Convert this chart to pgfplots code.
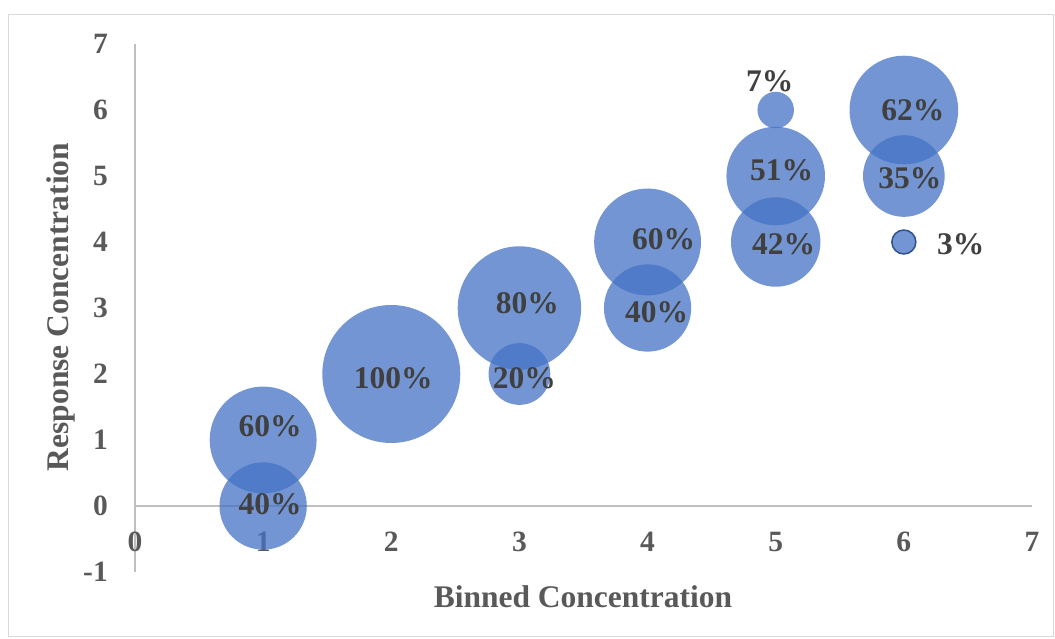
\documentclass[border=0pt]{standalone}
\usepackage{pgfplots}
\pgfplotsset{compat=1.18}
\usepackage{pgfplotstable}
\usepackage{fontspec}
\setmainfont{Liberation Serif}
\definecolor{bub}{HTML}{4472C4}
\definecolor{bubedge}{HTML}{2F528F}
\definecolor{tickgray}{HTML}{595959}
\definecolor{labgray}{HTML}{404040}
\definecolor{axgray}{HTML}{BFBFBF}
\definecolor{framegray}{HTML}{D9D9D9}
\newcommand\tickfont{\fontsize{29.5}{34}\selectfont\bfseries}
\newcommand\labfont{\fontsize{31.5}{36}\selectfont\bfseries}
\newcommand\titlefont{\fontsize{31.5}{36}\selectfont\bfseries}

\pgfplotstableread{
x y s
1 1 0.60
1 0 0.40
2 2 1.00
3 3 0.80
3 2 0.20
4 4 0.60
4 3 0.40
5 5 0.51
5 4 0.42
5 6 0.07
6 6 0.62
6 5 0.35
}\bubbles

\pgfplotstableread{
x y s
6 4 0.03
}\smallbubble

\pgfplotstableread{
x y lab dx dy
1 1 60 7 14
1 0 40 7 2
2 2 100 2 -4
3 3 80 8 5
3 2 20 5 -4.5
4 4 60 16 3
4 3 40 9 -4
5 5 51 6 5.5
5 4 42 8 -2.5
5 6 7 -6 29
6 6 62 9 0
6 5 35 6 -2
6 4 3 57 -2
}\labels

\begin{document}
\begin{tikzpicture}[x=1pt,y=1pt]
\useasboundingbox (0,0) rectangle (1055,638);
\draw[framegray, line width=1pt] (8.5,1.5) rectangle (1053.5,623.5);
\begin{axis}[
  at={(135pt,66pt)}, anchor=south west,
  scale only axis, width=897pt, height=528pt,
  xmin=0, xmax=7, ymin=-1, ymax=7,
  axis lines=middle,
  axis line style={-, draw=axgray, line width=1.5pt},
  xtick={0,1,2,3,4,5,6,7},
  ytick={-1,0,1,2,3,4,5,6,7},
  xticklabels={0,1,2,3,4,5,6,7},
  yticklabels={-1,0,1,2,3,4,5,6,7},
  hide obscured x ticks=false, hide obscured y ticks=false,
  major tick length=0pt, tick style={draw=none},
  xticklabel style={anchor=north, inner sep=0pt, yshift=-26pt, font=\tickfont, text=tickgray},
  yticklabel style={anchor=east, inner sep=0pt, xshift=-27pt, font=\tickfont, text=tickgray},
  clip=false,
]
\addplot[scatter, only marks, mark=*,
  mark options={draw opacity=0},
  scatter/use mapped color={draw=bub, fill=bub, fill opacity=0.75, draw opacity=0},
  visualization depends on={69*sqrt(\thisrow{s}) \as \msize},
  scatter/@pre marker code/.append style={/tikz/mark size=\msize pt},
] table[x=x, y=y, meta=s] {\bubbles};

\addplot[only marks, mark=*, mark size=12pt,
  mark options={draw=bubedge, line width=1.5pt, fill=bub, fill opacity=0.75}]
  table[x=x, y=y] {\smallbubble};

\addplot[only marks, mark=*, mark size=0pt, mark options={draw=none, fill=none},
  point meta=explicit symbolic,
  nodes near coords={\pgfplotspointmeta\%},
  visualization depends on={\thisrow{dx} \as \dx},
  visualization depends on={\thisrow{dy} \as \dy},
  every node near coord/.append style={anchor=center, xshift=\dx, yshift=\dy, font=\labfont, text=labgray, inner sep=0pt},
] table[x=x, y=y, meta=lab] {\labels};
\end{axis}
\node[rotate=90, font=\titlefont, text=tickgray] at (61,331) {Response Concentration};
\node[font=\titlefont, text=tickgray] at (583,41) {Binned Concentration};
\end{tikzpicture}
\end{document}
